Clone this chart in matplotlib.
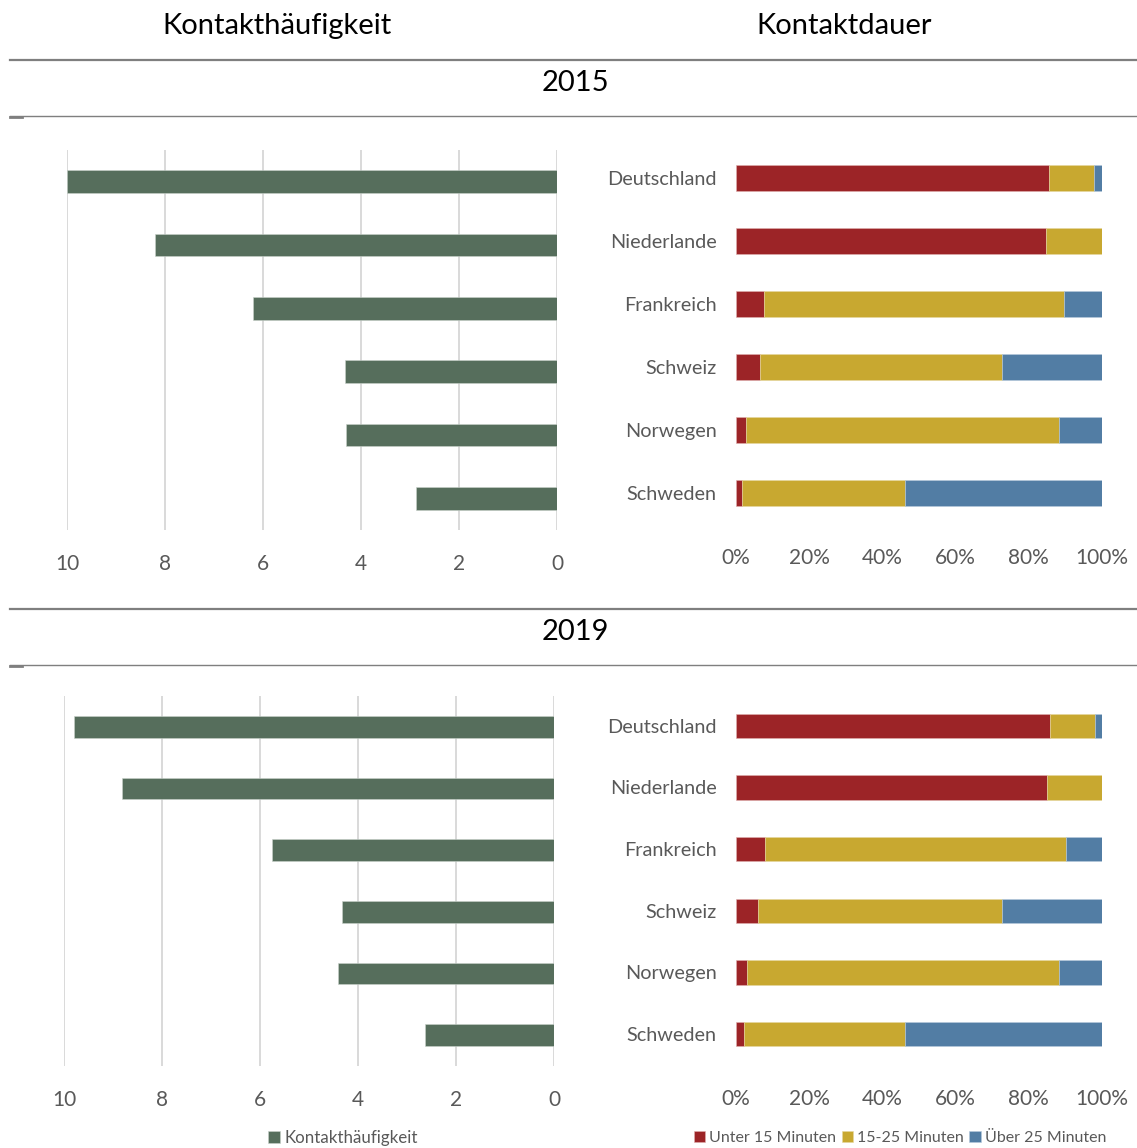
import matplotlib.pyplot as plt
from matplotlib.lines import Line2D
import numpy as np

plt.rcParams['font.family'] = ['Lato', 'DejaVu Sans']

countries = ["Deutschland", "Niederlande", "Frankreich", "Schweiz", "Norwegen", "Schweden"]
freq_2015 = [10.0, 8.2, 6.21, 4.32, 4.30, 2.87]
freq_2019 = [9.80, 8.81, 5.75, 4.32, 4.40, 2.63]

# Kontaktdauer shares (%)
under15_2015 = [85.5, 84.7, 7.7, 6.6, 2.7, 1.6]
mid_2015 = [12.3, 15.3, 81.9, 66.1, 85.6, 44.6]
over25_2015 = [2.2, 0.0, 10.4, 27.3, 11.7, 53.8]
under15_2019 = [85.8, 85.0, 7.9, 6.0, 3.0, 2.2]
mid_2019 = [12.3, 15.0, 82.3, 66.7, 85.3, 44.0]
over25_2019 = [1.9, 0.0, 9.8, 27.3, 11.7, 53.8]

dur_labels = ["Unter 15 Minuten", "15-25 Minuten", "Über 25 Minuten"]
x_ticks_left = [10, 8, 6, 4, 2, 0]
x_ticks_right = [0, 20, 40, 60, 80, 100]

green = "#566E5C"
red = "#9C2427"
yellow = "#C8A830"
blue = "#527DA4"
grey_txt = "#595959"

W, H = 1137, 1148
fig = plt.figure(figsize=(W / 100, H / 100), dpi=100)


def box(x0, x1, ytop, ybot):
    return [x0 / W, 1 - ybot / H, (x1 - x0) / W, (ybot - ytop) / H]


def freq_panel(rect, vals, hgt):
    ax = fig.add_axes(rect)
    y = np.arange(len(vals))
    ax.barh(y, vals, height=hgt, color=green, edgecolor="#C9D2CB", linewidth=0.4, zorder=3)
    ax.set_xlim(10, 0)
    ax.set_ylim(len(vals) - 0.5, -0.5)
    ax.set_xticks(x_ticks_left)
    ax.set_yticks([])
    ax.grid(axis="x", color="#D9D9D9", linewidth=1.4, zorder=0)
    for s in ax.spines.values():
        s.set_visible(False)
    ax.tick_params(axis="x", length=0, pad=17, labelsize=15, labelcolor=grey_txt)
    return ax


def dur_panel(rect, a, b, c, hgt):
    ax = fig.add_axes(rect)
    y = np.arange(len(countries))
    a = np.array(a); b = np.array(b); c = np.array(c)
    h1 = ax.barh(y, a, height=hgt, color=red, edgecolor="#E0B0B0", linewidth=0.4)
    h2 = ax.barh(y, b, left=a, height=hgt, color=yellow, edgecolor="#E6D8A0", linewidth=0.4)
    h3 = ax.barh(y, c, left=a + b, height=hgt, color=blue, edgecolor="#B8CBDD", linewidth=0.4)
    ax.set_xlim(0, 100)
    ax.set_ylim(len(countries) - 0.5, -0.5)
    ax.set_xticks(x_ticks_right)
    ax.set_xticklabels([f"{t}%" for t in x_ticks_right])
    ax.set_yticks(y)
    ax.set_yticklabels(countries)
    for s in ax.spines.values():
        s.set_visible(False)
    ax.tick_params(axis="x", length=0, pad=17, labelsize=15, labelcolor=grey_txt)
    ax.tick_params(axis="y", length=0, pad=14, labelsize=14.3, labelcolor=grey_txt)
    return ax, [h1, h2, h3]


# 2015
freq_panel(box(67, 557, 150, 530), freq_2015, 0.36)
dur_panel(box(736, 1102, 146.5, 524.5), under15_2015, mid_2015, over25_2015, 0.4)

# 2019
ax_f = freq_panel(box(64, 554, 696, 1066), freq_2019, 0.35)
ax_d, handles = dur_panel(box(736, 1102, 695, 1065), under15_2019, mid_2019, over25_2019, 0.39)

# headers
fig.text(277 / W, 1 - 26 / H, "Kontakthäufigkeit", ha="center", va="center", fontsize=21)
fig.text(844 / W, 1 - 26 / H, "Kontaktdauer", ha="center", va="center", fontsize=21)
fig.text(575 / W, 1 - 83 / H, "2015", ha="center", va="center", fontsize=21)
fig.text(575 / W, 1 - 632 / H, "2019", ha="center", va="center", fontsize=21)

# separator lines
for yy, lw in [(60, 1.6), (116, 1.0), (609, 1.6), (665, 1.0)]:
    fig.add_artist(Line2D([10 / W, 1], [1 - yy / H] * 2, color="#7F7F7F", linewidth=lw))
for yy in [117, 666]:
    fig.add_artist(Line2D([10 / W, 22 / W], [1 - yy / H] * 2, color="#7F7F7F", linewidth=2))

# legends
bars_f = ax_f.containers[0]
leg_kw = dict(frameon=False, labelcolor=grey_txt, handlelength=0.7,
              handleheight=0.7, handletextpad=0.25, columnspacing=0.35, borderpad=0)
fig.legend([bars_f], ["Kontakthäufigkeit"], loc="center", fontsize=12.2,
           bbox_to_anchor=(343 / W, 1 - 1138 / H), **leg_kw)
fig.legend(handles, dur_labels, loc="center", ncol=3, fontsize=11.5,
           bbox_to_anchor=(900 / W, 1 - 1138 / H), **leg_kw)

fig.savefig("out.png", dpi=100, facecolor="white")
